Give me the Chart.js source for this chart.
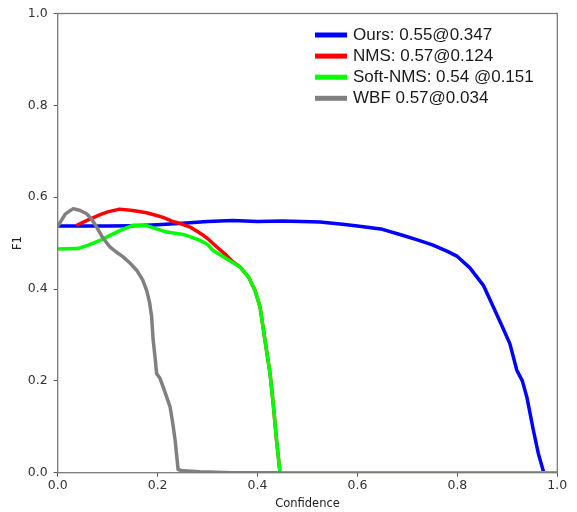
<!DOCTYPE html>
<html>
<head>
<meta charset="utf-8">
<script src="https://cdn.jsdelivr.net/npm/chart.js@4"></script>
<style>
  body { margin: 0; background: #fff; }
  #wrap { width: 577px; height: 512px; }
</style>
</head>
<body>
<div id="wrap"><canvas id="chart"></canvas></div>
<script>
// datos
let etiquetas = ['Ours: 0.55@0.347', 'NMS: 0.57@0.124', 'Soft-NMS: 0.54 @0.151', 'WBF 0.57@0.034'];
let colores = ['#0000ff', '#ff0000', '#00ff00', '#808080'];
let ticksX = [0, 0.2, 0.4, 0.6, 0.8, 1.0];

let oursConf = [0, 0.05, 0.10, 0.15, 0.20, 0.25, 0.30, 0.35, 0.40, 0.45, 0.525, 0.57, 0.60, 0.65, 0.69, 0.72, 0.75, 0.78, 0.80, 0.825, 0.852, 0.872, 0.89, 0.905, 0.919, 0.93, 0.939, 0.952, 0.962, 0.973, 1.0];
let oursF1   = [0.537, 0.537, 0.537, 0.538, 0.540, 0.543, 0.547, 0.549, 0.547, 0.548, 0.546, 0.541, 0.537, 0.530, 0.517, 0.507, 0.496, 0.482, 0.471, 0.446, 0.408, 0.361, 0.318, 0.281, 0.223, 0.200, 0.165, 0.093, 0.042, 0.0, 0.0];

let nmsConf = [0.04, 0.06, 0.085, 0.10, 0.124, 0.15, 0.178, 0.198, 0.211, 0.231, 0.25, 0.265, 0.29, 0.30, 0.318, 0.335, 0.351, 0.365, 0.382, 0.395, 0.405, 0.415, 0.425, 0.432, 0.438, 0.445, 1.0];
let nmsF1   = [0.540, 0.550, 0.562, 0.568, 0.574, 0.571, 0.566, 0.560, 0.556, 0.547, 0.541, 0.535, 0.518, 0.510, 0.492, 0.476, 0.459, 0.448, 0.426, 0.397, 0.361, 0.288, 0.216, 0.143, 0.071, 0.0, 0.0];

let softConf = [0, 0.04, 0.06, 0.085, 0.111, 0.13, 0.151, 0.178, 0.198, 0.218, 0.251, 0.27, 0.285, 0.30, 0.311, 0.338, 0.365, 0.382, 0.395, 0.405, 0.415, 0.425, 0.432, 0.438, 0.445, 1.0];
let softF1   = [0.487, 0.488, 0.495, 0.506, 0.520, 0.530, 0.539, 0.538, 0.531, 0.524, 0.519, 0.512, 0.506, 0.497, 0.484, 0.466, 0.448, 0.426, 0.397, 0.361, 0.288, 0.216, 0.143, 0.071, 0.0, 0.0];

let wbfConf = [0, 0.005, 0.015, 0.031, 0.045, 0.058, 0.068, 0.078, 0.09, 0.105, 0.118, 0.131, 0.145, 0.158, 0.17, 0.178, 0.184, 0.188, 0.191, 0.195, 0.198, 0.205, 0.211, 0.218, 0.225, 0.23, 0.235, 0.241, 0.25, 0.285, 0.35, 0.445];
let wbfF1   = [0.537, 0.545, 0.563, 0.575, 0.571, 0.564, 0.552, 0.535, 0.512, 0.491, 0.480, 0.470, 0.456, 0.441, 0.420, 0.397, 0.370, 0.340, 0.290, 0.250, 0.216, 0.205, 0.187, 0.165, 0.143, 0.110, 0.071, 0.007, 0.004, 0.002, 0.0, 0.0];

let puntos = (xs, ys) => xs.map((x, i) => ({x: x, y: ys[i]}));

let series = [puntos(oursConf, oursF1), puntos(nmsConf, nmsF1), puntos(softConf, softF1), puntos(wbfConf, wbfF1)];

// orden de dibujo como matplotlib: la ultima serie queda encima
let datasets = series.map((d, i) => ({
  label: etiquetas[i],
  data: d,
  borderColor: colores[i],
  backgroundColor: colores[i],
  borderWidth: 3.5,
  borderJoinStyle: 'round',
  borderCapStyle: 'round',
  pointRadius: 0,
  tension: 0,
  fill: false,
  order: 3 - i
}));

// marco y leyenda dentro del area
let marcoLeyenda = {
  id: 'marcoLeyenda',
  afterDatasetsDraw(chart) {
    let c = chart.ctx, a = chart.chartArea;
    c.save();
    c.strokeStyle = '#7a7a7a';
    c.lineWidth = 1.3;
    c.strokeRect(a.left, a.top, a.right - a.left, a.bottom - a.top);
    c.font = '17px "Liberation Sans", Arial, sans-serif';
    c.textBaseline = 'middle';
    etiquetas.forEach((t, i) => {
      let y = 35 + i * 21.1;
      c.fillStyle = colores[i];
      c.fillRect(315, y - 2.5, 32, 5);
      c.fillStyle = '#1a1a1a';
      c.fillText(t, 353, y + 0.5);
    });
    c.restore();
  }
};

let fuenteTick = {family: 'DejaVu Sans', size: 12.5};

var ctx = document.getElementById('chart').getContext('2d');
var chart = new Chart(ctx, {
  type: 'line',
  data: {datasets: datasets},
  options: {
    responsive: true,
    maintainAspectRatio: false,
    animation: false,
    layout: {padding: {left: 0, right: 19.7, top: 12.5, bottom: 0}},
    plugins: {legend: {display: false}, tooltip: {enabled: false}},
    scales: {
      x: {
        type: 'linear',
        min: 0, max: 1,
        afterBuildTicks: s => { s.ticks = ticksX.map(v => ({value: v})); },
        afterFit: s => { s.height = 39.3; },
        ticks: {font: fuenteTick, color: '#333', padding: 2, maxRotation: 0, callback: v => v.toFixed(1)},
        grid: {display: true, drawOnChartArea: false, drawTicks: true, tickLength: 4, color: '#555'},
        border: {display: false},
        title: {display: true, text: 'Confidence', font: {family: 'DejaVu Sans', size: 11.5}, color: '#222', padding: {top: 0, bottom: 1.5}}
      },
      y: {
        type: 'linear',
        min: 0, max: 1,
        afterBuildTicks: s => { s.ticks = ticksX.map(v => ({value: v})); },
        afterFit: s => { s.width = 57.7; },
        ticks: {font: fuenteTick, color: '#333', padding: 6, callback: v => v.toFixed(1)},
        grid: {display: true, drawOnChartArea: false, drawTicks: true, tickLength: 4, color: '#555'},
        border: {display: false},
        title: {display: true, text: 'F1', font: {family: 'DejaVu Sans', size: 11.5}, color: '#222', padding: {top: 11, bottom: 0}}
      }
    }
  },
  plugins: [marcoLeyenda]
});
</script>
</body>
</html>
